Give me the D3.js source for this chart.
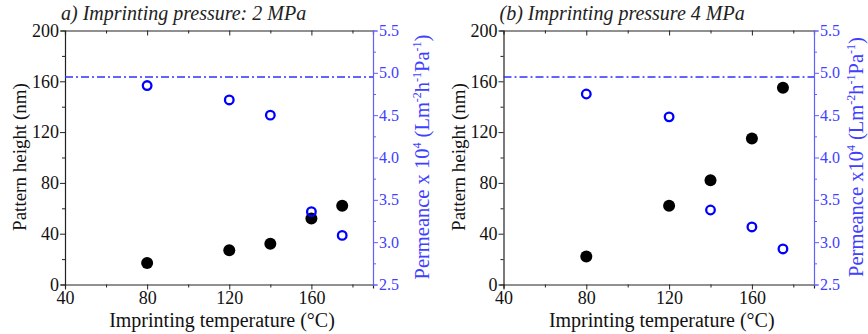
<!DOCTYPE html>
<html>
<head>
<meta charset="utf-8">
<script src="https://cdn.jsdelivr.net/npm/d3@7"></script>
<style>
  body { margin: 0; background: #fff; }
  svg, svg text { font-family: "Liberation Serif", "DejaVu Serif", serif; }
</style>
</head>
<body>
<div id="chart"></div>
<script>
// temperatures (°C)
const tempsA = [80, 120, 140, 160, 175];
const tempsB = [80, 120, 140, 160, 175];
// pattern height (nm), filled black
const heightA = [17, 27, 32, 52, 62];
const heightB = [22, 62, 82, 115, 155];
// permeance x 10^4, open blue
const permA = [4.85, 4.68, 4.50, 3.36, 3.08];
const permB = [4.75, 4.48, 3.38, 3.18, 2.92];
// reference (dash-dot) level
const refA = 4.95;
const refB = 4.95;

const titles = ["a) Imprinting pressure: 2 MPa", "(b) Imprinting pressure 4 MPa"];
const permLabelStart = ["Permeance x 10", "Permeance x10"];
const xTicks = [40, 80, 120, 160];
const yTicks = [0, 40, 80, 120, 160, 200];
const y2Ticks = [2.5, 3.0, 3.5, 4.0, 4.5, 5.0, 5.5];

const blue = "#0000ff";
const axisBlue = "#6060ff";
const textBlue = "#4040ff";
const serif = "'Liberation Serif', serif";

const svg = d3.select("#chart").append("svg")
    .attr("width", 868)
    .attr("height", 334);

const isMajor2 = d => y2Ticks.some(v => Math.abs(v - d) < 1e-6);

function panel(p) {
    const g = svg.append("g");
    const x = d3.scaleLinear().domain([40, 190]).range([p.left, p.right]);
    const y = d3.scaleLinear().domain([0, 200]).range([284.5, 30.5]);
    const y2 = d3.scaleLinear().domain([2.5, 5.5]).range([284.5, 30.5]);

    // top frame with inward ticks
    g.append("g")
        .attr("transform", `translate(0,${y(200)})`)
        .call(d3.axisTop(x).tickValues(d3.range(60, 190, 20)).tickSize(-4).tickFormat(""))
        .call(a => a.select(".domain").attr("stroke", "#222").attr("stroke-width", 1.2))
        .call(a => a.selectAll(".tick line").attr("stroke", "#222")
            .attr("y2", d => d % 40 === 0 ? 5 : 3));

    // bottom axis
    g.append("g")
        .attr("transform", `translate(0,${y(0)})`)
        .call(d3.axisBottom(x).tickValues(d3.range(40, 190, 20)).tickSize(4).tickPadding(3)
            .tickFormat(d => xTicks.includes(d) ? d : ""))
        .attr("font-family", serif).attr("font-size", 18)
        .call(a => a.select(".domain").attr("stroke", "#222").attr("stroke-width", 1.2))
        .call(a => a.selectAll(".tick line").attr("stroke", "#222")
            .attr("y2", d => xTicks.includes(d) ? 5 : 3))
        .call(a => a.selectAll("text").attr("fill", "#111"));

    // left axis
    g.append("g")
        .attr("transform", `translate(${p.left},0)`)
        .call(d3.axisLeft(y).tickValues(d3.range(0, 201, 20)).tickSize(4).tickPadding(2)
            .tickFormat(d => yTicks.includes(d) ? d : ""))
        .attr("font-family", serif).attr("font-size", 18)
        .call(a => a.select(".domain").attr("stroke", "#222").attr("stroke-width", 1.2))
        .call(a => a.selectAll(".tick line").attr("stroke", "#222")
            .attr("x2", d => yTicks.includes(d) ? -5 : -3))
        .call(a => a.selectAll("text").attr("fill", "#111"));

    // right axis (blue)
    g.append("g")
        .attr("transform", `translate(${p.right},0)`)
        .call(d3.axisRight(y2).tickValues(d3.range(2.5, 5.51, 0.25)).tickSize(4).tickPadding(2)
            .tickFormat(d => isMajor2(d) ? d3.format(".1f")(d) : ""))
        .attr("font-family", serif).attr("font-size", 16)
        .call(a => a.select(".domain").attr("stroke", axisBlue).attr("stroke-width", 1.2))
        .call(a => a.selectAll(".tick line").attr("stroke", axisBlue)
            .attr("x2", d => isMajor2(d) ? 5 : 3))
        .call(a => a.selectAll("text").attr("fill", textBlue));

    // dash-dot reference line
    g.append("line")
        .attr("x1", p.left).attr("x2", p.right)
        .attr("y1", y2(p.ref)).attr("y2", y2(p.ref))
        .attr("stroke", "#3030ff")
        .attr("stroke-width", 1.4)
        .attr("stroke-dasharray", "8,3,2,3");

    // pattern height points
    g.selectAll(".h").data(p.temps).enter().append("circle")
        .attr("cx", d => x(d))
        .attr("cy", (d, i) => y(p.height[i]))
        .attr("r", 6)
        .attr("fill", "#000");

    // permeance points
    g.selectAll(".p").data(p.temps).enter().append("circle")
        .attr("cx", d => x(d))
        .attr("cy", (d, i) => y2(p.perm[i]))
        .attr("r", 4.3)
        .attr("fill", "none")
        .attr("stroke", blue)
        .attr("stroke-width", 2.3);

    // title
    g.append("text")
        .attr("x", p.left - 4)
        .attr("y", 20)
        .style("font-size", "20px")
        .style("font-style", "italic")
        .attr("fill", "#222")
        .text(p.title);

    // x title
    g.append("text")
        .attr("x", (p.left + p.right) / 2 + 3)
        .attr("y", 327)
        .attr("text-anchor", "middle")
        .style("font-size", "20px")
        .attr("fill", "#111")
        .text("Imprinting temperature (°C)");

    // left y title
    g.append("text")
        .attr("transform", `translate(${p.left - 39},157) rotate(-90)`)
        .attr("text-anchor", "middle")
        .style("font-size", "19px")
        .attr("fill", "#111")
        .text("Pattern height (nm)");

    // right y title
    const t = g.append("text")
        .attr("transform", `translate(${p.right + p.rOff},157) rotate(-90)`)
        .attr("text-anchor", "middle")
        .style("font-size", "20.5px")
        .attr("fill", textBlue);
    t.append("tspan").text(p.permStart);
    t.append("tspan").attr("dy", -8).style("font-size", "12px").text("4");
    t.append("tspan").attr("dy", 8).text(" (Lm");
    t.append("tspan").attr("dy", -8).style("font-size", "12px").text("-2");
    t.append("tspan").attr("dy", 8).text("h");
    t.append("tspan").attr("dy", -8).style("font-size", "12px").text("-1");
    t.append("tspan").attr("dy", 8).text("Pa");
    t.append("tspan").attr("dy", -8).style("font-size", "12px").text("-1");
    t.append("tspan").attr("dy", 8).text(")");
}

panel({left: 65, right: 373, temps: tempsA, height: heightA, perm: permA, ref: refA,
       title: titles[0], permStart: permLabelStart[0], rOff: 56});
panel({left: 503.5, right: 814, temps: tempsB, height: heightB, perm: permB, ref: refB,
       title: titles[1], permStart: permLabelStart[1], rOff: 49});
</script>
</body>
</html>
